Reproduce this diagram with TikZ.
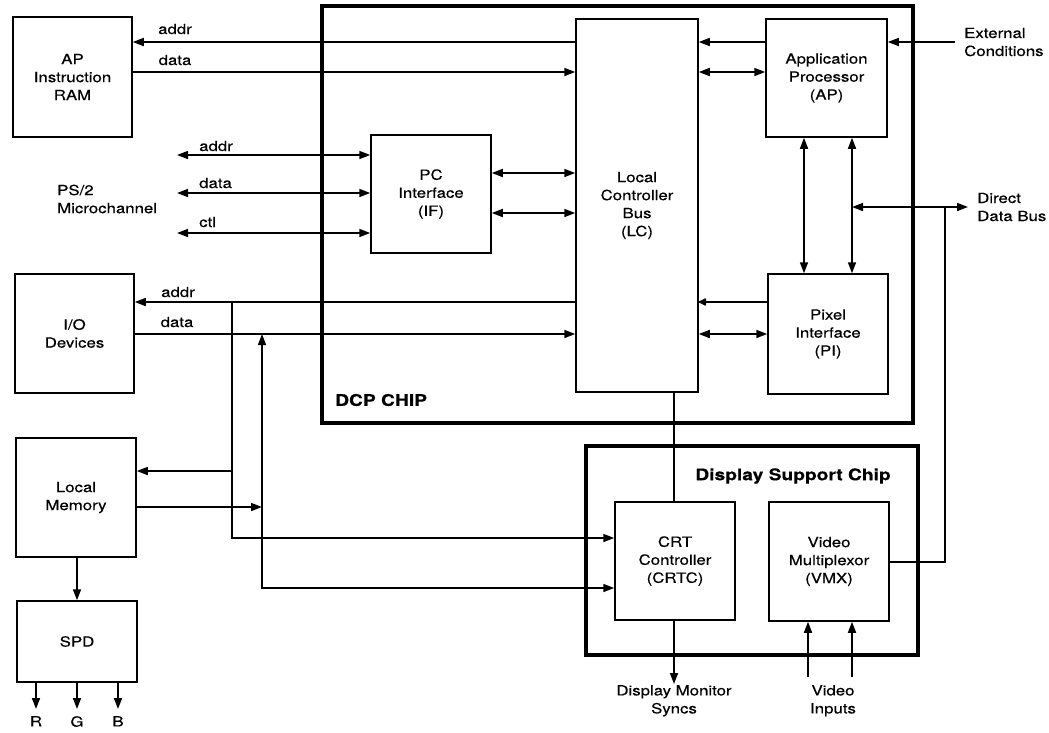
\documentclass[tikz,border=0pt]{standalone}
\usepackage{fontspec}
\setmainfont[FakeStretch=1.2,FakeBold=0.4]{TeX Gyre Heros}
\usetikzlibrary{arrows.meta}
\newcommand{\dgfont}{\fontsize{14}{18}\selectfont}
\newcommand{\dgbold}{\fontsize{16}{19}\selectfont\bfseries}
\begin{document}
\begin{tikzpicture}[x=1pt,y=-1pt,
  box/.style={draw, line width=1.5pt, align=center, font=\dgfont, inner sep=0pt},
  chip/.style={draw, line width=3.2pt, inner sep=0pt},
  arr/.style={line width=1.6pt, -{Triangle[length=11pt,width=8pt]}},
  darr/.style={line width=1.6pt, {Triangle[length=11pt,width=8pt]}-{Triangle[length=11pt,width=8pt]}},
  blob/.style={line width=1.6pt, -{Latex[length=9pt,width=9pt,round]}},
  wire/.style={line width=1.6pt},
  lbl/.style={font=\dgfont, align=center, inner sep=1pt},
  ttl/.style={font=\dgbold, inner sep=1pt}]
\useasboundingbox (0,0) rectangle (1049,732);

% chips
\node[chip, minimum width=591pt, minimum height=417pt] (dcp) at (617.5,214.5) {};
\node[chip, minimum width=332pt, minimum height=209pt] (dsc) at (752,550.5) {};
\node[ttl, anchor=west] (dcpt) at (334,400) {DCP CHIP};
\node[ttl] (dsct) at (793,476) {Display Support Chip};

% boxes
\node[box, minimum width=119pt, minimum height=120pt] (apram) at (72.5,77) {AP\\Instruction\\RAM};
\node[box, minimum width=119pt, minimum height=119pt] (io) at (74.5,333.5) {I/O\\Devices};
\node[box, minimum width=120pt, minimum height=119pt] (lm) at (76,497.5) {Local\\Memory};
\node[box, minimum width=120pt, minimum height=81pt] (spd) at (77,641.5) {SPD};
\node[box, minimum width=122pt, minimum height=373pt] (lc) at (637,205.5) {Local\\Controller\\Bus\\(LC)};
\node[box, minimum width=121pt, minimum height=118pt] (ap) at (826.5,78) {Application\\Processor\\(AP)};
\node[box, minimum width=120pt, minimum height=118pt] (pcif) at (431,194) {PC\\Interface\\(IF)};
\node[box, minimum width=120pt, minimum height=120pt] (pi) at (828,334) {Pixel\\Interface\\(PI)};
\node[box, minimum width=120pt, minimum height=118pt] (crtc) at (675,561) {CRT\\Controller\\(CRTC)};
\node[box, minimum width=120pt, minimum height=119pt] (vmx) at (829,561.5) {Video\\Multiplexor\\(VMX)};

% free labels
\node[lbl, anchor=west] (ps2) at (56,199) [align=left] {PS/2\\Microchannel};
\node[lbl, anchor=west] (ext) at (963,42) [align=left] {External\\Conditions};
\node[lbl, anchor=west] (ddb) at (976,207) [align=left] {Direct\\Data Bus};
\node[lbl, anchor=north] (syncs) at (674,684) {Display Monitor\\Syncs};
\node[lbl, anchor=north] (vin) at (833,684) {Video\\Inputs};
\node[lbl, anchor=north] (r) at (36,715) {R};
\node[lbl, anchor=north] (g) at (77,715) {G};
\node[lbl, anchor=north] (b) at (118,715) {B};
\node[lbl] (la1) at (175,29) {addr};
\node[lbl] (ld1) at (175,60) {data};
\node[lbl, anchor=west] (la2) at (198,146) {addr};
\node[lbl, anchor=west] (ld2) at (198,183) {data};
\node[lbl, anchor=west] (lc2) at (198,222) {ctl};
\node[lbl] (la3) at (178,292) {addr};
\node[lbl] (ld3) at (177,322) {data};

% level coordinates
\coordinate (yA) at (0,42);
\coordinate (yD) at (0,72);
\coordinate (yPa) at (0,155);
\coordinate (yPd) at (0,193);
\coordinate (yPc) at (0,233);
\coordinate (yF1) at (0,173);
\coordinate (yF2) at (0,213);
\coordinate (yDdb) at (0,207);
\coordinate (yIa) at (0,302);
\coordinate (yId) at (0,334);
\coordinate (yLa) at (0,471);
\coordinate (yLd) at (0,507);
\coordinate (yCa) at (0,538);
\coordinate (yCd) at (0,588);
\coordinate (yV) at (0,562);
\coordinate (xPs) at (177,0);
\coordinate (xAB) at (232,0);
\coordinate (xDB) at (262,0);
\coordinate (xV1) at (804,0);
\coordinate (xV2) at (852,0);
\coordinate (xDV) at (945,0);
\coordinate (xDE) at (968,0);
\coordinate (xExt) at (955,0);
\coordinate (xIn1) at (808,0);
\coordinate (xIn2) at (852,0);
\coordinate (yOut) at (0,709);
\coordinate (yInB) at (0,677);

% AP instruction RAM
\draw[arr] (lc.west |- yA) -- (apram.east |- yA);
\draw[arr] (apram.east |- yD) -- (lc.west |- yD);
% PS/2
\draw[darr] (xPs |- yPa) -- (pcif.west |- yPa);
\draw[darr] (xPs |- yPd) -- (pcif.west |- yPd);
\draw[darr] (xPs |- yPc) -- (pcif.west |- yPc);
% IF - LC
\draw[darr] (pcif.east |- yF1) -- (lc.west |- yF1);
\draw[darr] (pcif.east |- yF2) -- (lc.west |- yF2);
% AP - LC
\draw[arr] (ap.west |- yA) -- (lc.east |- yA);
\draw[darr] (ap.west |- yD) -- (lc.east |- yD);
\draw[arr] (xExt |- yA) -- (ap.east |- yA);
% AP - PI
\draw[darr] (ap.south -| xV1) -- (pi.north -| xV1);
\draw[darr] (ap.south -| xV2) -- (pi.north -| xV2);
% direct data bus
\draw[darr] (xV2 |- yDdb) -- (xDE |- yDdb);
\draw[wire] (vmx.east |- yV) -- (xDV |- yV) -- (xDV |- yDdb);
% PI - LC
\draw[blob] (pi.west |- yIa) -- (lc.east |- yIa);
\draw[darr] (pi.west |- yId) -- (lc.east |- yId);
% I/O
\draw[arr] (lc.west |- yIa) -- (io.east |- yIa);
\draw[arr] (io.east |- yId) -- (lc.west |- yId);
% address bus to CRTC and memory
\draw[arr] (xAB |- yIa) -- (xAB |- yCa) -- (crtc.west |- yCa);
\draw[arr] (xAB |- yLa) -- (lm.east |- yLa);
% data bus
\draw[darr] (xDB |- yId) -- (xDB |- yCd) -- (crtc.west |- yCd);
\draw[arr] (lm.east |- yLd) -- (xDB |- yLd);
% LC - CRTC
\draw[wire] (lc.south -| syncs.north) -- (crtc.north -| syncs.north);
\draw[arr] (crtc.south -| syncs.north) -- (syncs.north);
% video inputs
\draw[arr] (xIn1 |- yInB) -- (vmx.south -| xIn1);
\draw[arr] (xIn2 |- yInB) -- (vmx.south -| xIn2);
% memory - SPD
\draw[arr] (lm.south -| spd.north) -- (spd.north);
\draw[arr] (spd.south -| r) -- (r |- yOut);
\draw[arr] (spd.south -| g) -- (g |- yOut);
\draw[arr] (spd.south -| b) -- (b |- yOut);
\end{tikzpicture}
\end{document}
